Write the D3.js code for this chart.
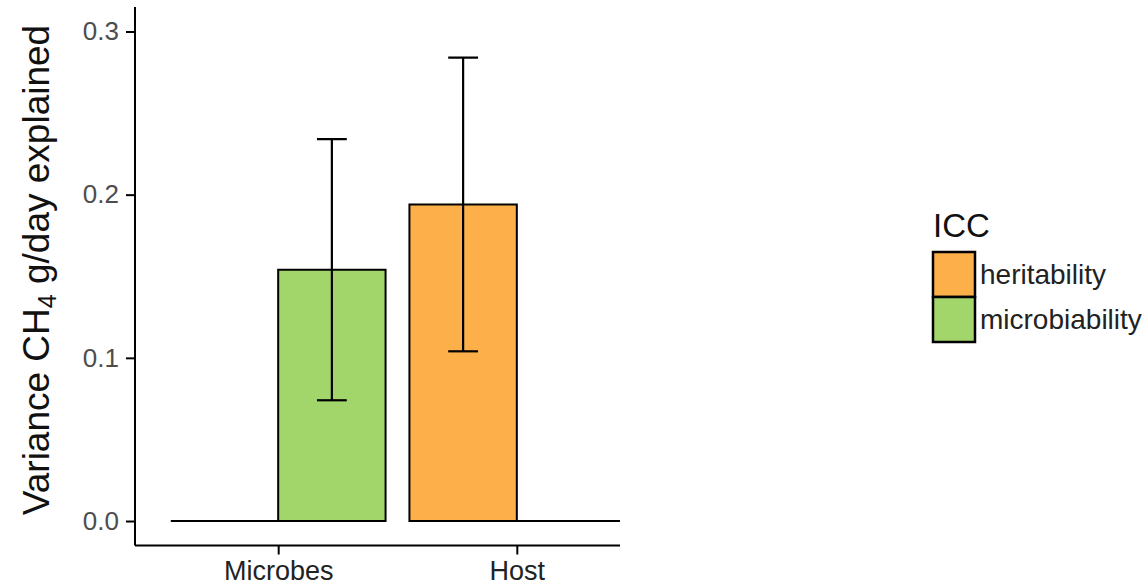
<!DOCTYPE html>
<html>
<head>
<meta charset="utf-8">
<script src="https://cdn.jsdelivr.net/npm/d3@7"></script>
<style>
  html, body { margin: 0; padding: 0; background: #fff; }
  svg { display: block; font-family: "Liberation Sans", Arial, Helvetica, sans-serif; }
</style>
</head>
<body>
<svg id="chart" width="1147" height="585"></svg>
<script>
// Variance components of CH4 emission, grouped by source
const categories = ["Microbes", "Host"];
const groups = ["heritability", "microbiability"];
const heritability = [0, 0.194];
const microbiability = [0.154, 0];
const heritabilityLow = [null, 0.104];
const heritabilityHigh = [null, 0.284];
const microbiabilityLow = [0.074, null];
const microbiabilityHigh = [0.234, null];
const yTicks = [0.0, 0.1, 0.2, 0.3];
const colors = { heritability: "#fdb04a", microbiability: "#a2d66b" };

const svg = d3.select("#chart");

const panel = { left: 135, right: 620, top: 7, bottom: 545.5 };

// discrete positions 1..n with a 0.6 expansion on each side
const x = d3.scaleLinear().domain([0.4, 2.6]).range([135, 660]);
const y = d3.scaleLinear().domain([-0.015, 0.315]).range([panel.bottom, panel.top]);

const dodge = 0.9, barW = dodge / groups.length, capW = 0.125;

const rows = [];
categories.forEach((c, i) => {
  groups.forEach((g, j) => {
    const isH = g === "heritability";
    rows.push({
      cat: c, group: g,
      pos: i + 1 - dodge / 2 + barW * j + barW / 2,
      value: isH ? heritability[i] : microbiability[i],
      lo: isH ? heritabilityLow[i] : microbiabilityLow[i],
      hi: isH ? heritabilityHigh[i] : microbiabilityHigh[i]
    });
  });
});

svg.append("defs").append("clipPath").attr("id", "panelClip")
  .append("rect")
  .attr("x", panel.left).attr("y", panel.top)
  .attr("width", panel.right - panel.left).attr("height", panel.bottom - panel.top);

const plot = svg.append("g").attr("clip-path", "url(#panelClip)");

// bars as closed paths so zero-height bars still show their outline on the baseline
plot.selectAll("path.bar").data(rows).join("path")
  .attr("class", "bar")
  .attr("d", d => {
    const x0 = x(d.pos - barW / 2), x1 = x(d.pos + barW / 2);
    const y0 = y(0), y1 = y(d.value);
    return `M${x0},${y0}H${x1}V${y1}H${x0}Z`;
  })
  .attr("fill", d => colors[d.group])
  .attr("stroke", "#000")
  .attr("stroke-width", 2)
  .attr("stroke-linejoin", "miter");

// error bars
const eb = plot.selectAll("g.err").data(rows.filter(d => d.lo != null)).join("g")
  .attr("class", "err")
  .attr("stroke", "#000").attr("stroke-width", 2.2).attr("fill", "none");
eb.append("line")
  .attr("x1", d => x(d.pos)).attr("x2", d => x(d.pos))
  .attr("y1", d => y(d.lo)).attr("y2", d => y(d.hi));
eb.append("line")
  .attr("x1", d => x(d.pos - capW / 2)).attr("x2", d => x(d.pos + capW / 2))
  .attr("y1", d => y(d.hi)).attr("y2", d => y(d.hi));
eb.append("line")
  .attr("x1", d => x(d.pos - capW / 2)).attr("x2", d => x(d.pos + capW / 2))
  .attr("y1", d => y(d.lo)).attr("y2", d => y(d.lo));

// y axis
const yAxis = svg.append("g")
  .attr("transform", `translate(${panel.left},0)`)
  .call(d3.axisLeft(y).tickValues(yTicks).tickFormat(d3.format(".1f")).tickSize(9).tickPadding(7));
yAxis.select(".domain").attr("d", `M0,${panel.top}V${panel.bottom}`).attr("stroke-width", 2);
yAxis.selectAll(".tick line").attr("stroke-width", 2);
yAxis.selectAll(".tick text").attr("font-size", 26).attr("fill", "#4d4d4d")
  .attr("font-family", "Liberation Sans, Arial, sans-serif");

// x axis
const xAxis = svg.append("g")
  .attr("transform", `translate(0,${panel.bottom})`)
  .call(d3.axisBottom(x).tickValues([1, 2]).tickFormat(d => categories[d - 1]).tickSize(9).tickPadding(6));
xAxis.select(".domain").attr("d", `M${panel.left},0H${panel.right}`).attr("stroke-width", 2);
xAxis.selectAll(".tick line").attr("stroke-width", 2);
xAxis.selectAll(".tick text").attr("font-size", 27).attr("fill", "#222")
  .attr("font-family", "Liberation Sans, Arial, sans-serif");

// y axis title with subscript
const title = svg.append("text")
  .attr("transform", "translate(49,270) rotate(-90)")
  .attr("text-anchor", "middle")
  .attr("font-size", 37)
  .attr("fill", "#111");
title.append("tspan").text("Variance CH");
title.append("tspan").text("4").attr("font-size", 25).attr("dy", 7);
title.append("tspan").text(" g/day explained").attr("dy", -7);

// legend
const legend = svg.append("g").attr("transform", "translate(933,0)");
legend.append("text").attr("x", 0).attr("y", 237).attr("font-size", 33).attr("fill", "#111").text("ICC");
const keyH = 45, keyW = 42, keyTop = 252;
groups.forEach((g, i) => {
  legend.append("rect")
    .attr("x", 0).attr("y", keyTop + i * keyH)
    .attr("width", keyW).attr("height", keyH)
    .attr("fill", colors[g]).attr("stroke", "#000").attr("stroke-width", 2.5);
  legend.append("text")
    .attr("x", keyW + 5).attr("y", keyTop + i * keyH + keyH / 2 + 9)
    .attr("font-size", 28).attr("fill", "#222").text(g);
});
</script>
</body>
</html>
